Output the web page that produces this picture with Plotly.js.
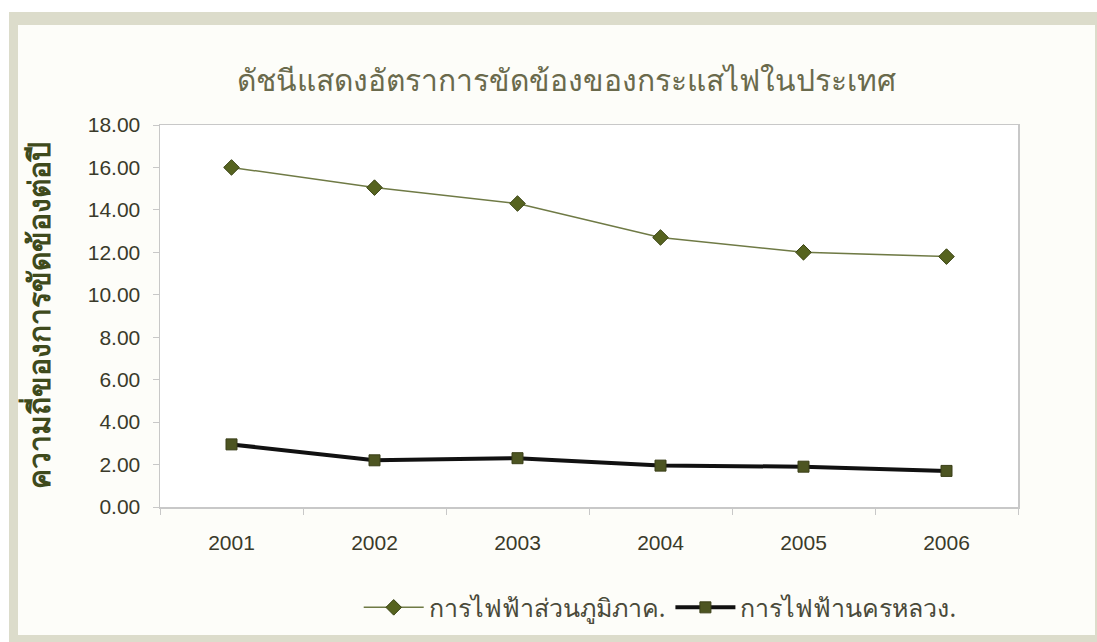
<!DOCTYPE html>
<html>
<head>
<meta charset="utf-8">
<script src="https://cdn.plot.ly/plotly-3.0.1.min.js"></script>
<style>
html,body{margin:0;padding:0;width:1097px;height:642px;overflow:hidden;background:#ffffff;}
#frame{position:absolute;left:9px;top:12px;width:1088px;height:630px;background:#dcdccb;}
#inner{position:absolute;left:18px;top:25px;width:1077px;height:610px;background:#fdfdf9;}
#chart{position:absolute;left:0;top:0;width:1097px;height:642px;}
</style>
</head>
<body>
<div id="frame"></div>
<div id="inner"></div>
<div id="chart"></div>
<script>
var years = ['2001','2002','2003','2004','2005','2006'];
var regional = [16.0, 15.05, 14.3, 12.7, 12.0, 11.8];
var metro = [2.95, 2.2, 2.3, 1.95, 1.9, 1.7];
var seriesNames = ['การไฟฟ้าส่วนภูมิภาค.', 'การไฟฟ้านครหลวง.'];
var chartTitle = 'ดัชนีแสดงอัตราการขัดข้องของกระแสไฟในประเทศ';
var yTitle = 'ความถี่ของการขัดข้องต่อปี';

var traces = [
  {
    x: years, y: regional, name: seriesNames[0], type: 'scatter', mode: 'lines+markers',
    line: {color: '#6f7a45', width: 1.5},
    marker: {symbol: 'diamond', size: 12, color: '#56631f', line: {color: '#3b4415', width: 1}}
  },
  {
    x: years, y: metro, name: seriesNames[1], type: 'scatter', mode: 'lines+markers',
    line: {color: '#111111', width: 4},
    marker: {symbol: 'square', size: 11, color: '#4d5522', line: {color: '#3a3f18', width: 1}}
  }
];

var layout = {
  width: 1097, height: 642,
  paper_bgcolor: 'rgba(0,0,0,0)',
  plot_bgcolor: '#ffffff',
  margin: {l: 160, r: 79, t: 125, b: 134},
  showlegend: true,
  title: {
    text: chartTitle, x: 0.516, xanchor: 'center', y: 0.875, yanchor: 'middle',
    font: {family: 'Noto Sans, DejaVu Sans, sans-serif', size: 30, color: '#6a6a4c'}
  },
  xaxis: {
    type: 'category', tickson: 'boundaries', ticks: 'outside', ticklen: 6,
    tickcolor: '#c8c8c8', showline: true, linecolor: '#c8c8c8', linewidth: 1.5, mirror: true,
    showgrid: false, zeroline: false, ticklabelstandoff: 16,
    tickfont: {family: 'Liberation Sans, Arial, sans-serif', size: 21, color: '#3a3a2a'},
    range: [-0.5, 5.5]
  },
  yaxis: {
    range: [0, 18], dtick: 2, tickformat: '.2f', ticks: 'outside', ticklen: 6,
    tickcolor: '#c8c8c8', showline: true, linecolor: '#c8c8c8', linewidth: 1.5, mirror: true,
    showgrid: false, zeroline: false, ticklabelstandoff: 8,
    tickfont: {family: 'Liberation Sans, Arial, sans-serif', size: 21, color: '#3a3a2a'},
    title: {
      text: '<b>' + yTitle + '</b>', standoff: 28,
      font: {family: 'Noto Sans, DejaVu Sans, sans-serif', size: 30, color: '#3f4a1c'}
    }
  },
  legend: {
    orientation: 'h', x: 0.583, xanchor: 'center', y: -0.2, yanchor: 'top',
    font: {family: 'Noto Sans, DejaVu Sans, sans-serif', size: 25, color: '#4a4a3a'},
    bgcolor: 'rgba(0,0,0,0)', itemwidth: 60
  }
};

Plotly.newPlot('chart', traces, layout, {displayModeBar: false, staticPlot: true});
</script>
</body>
</html>
